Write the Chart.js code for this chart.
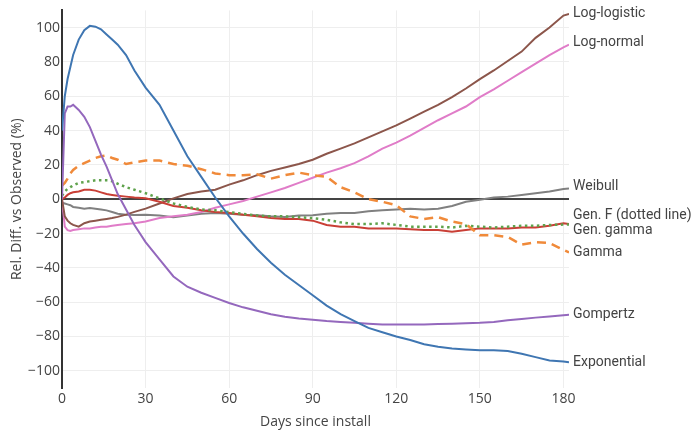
<!DOCTYPE html>
<html>
<head>
<meta charset="utf-8">
<script src="https://cdn.jsdelivr.net/npm/chart.js@4.4.1/dist/chart.umd.min.js"></script>
<style>
  body { margin: 0; background: #fff; }
  #wrap { width: 697px; height: 437px; }
</style>
</head>
<body>
<div id="wrap"><canvas id="chart"></canvas></div>
<script>
// days since install (x values shared by every model)
const days = [0, 1, 2, 3, 4, 6, 8, 10, 12, 14, 16, 18, 20, 23, 26, 30, 35, 40, 45, 50, 55, 60, 65, 70, 75, 80, 85, 90,
  95, 100, 105, 110, 115, 120, 125, 130, 135, 140, 145, 150, 155, 160, 165, 170, 175, 180, 182];

// relative difference vs observed (%)
const exponential = [40, 60, 70, 77, 84, 93, 98.5, 101, 100.5, 99, 96, 93, 90, 84, 75, 65, 55, 40, 25, 13, 1, -10, -20, -29,
  -37, -44, -50, -56, -62, -67, -71, -75, -77.5, -80, -82, -84.5, -86, -87, -87.5, -88, -88, -88.5, -90, -92, -94, -94.5, -95];
const gompertz = [0, 50, 54, 54, 55, 52, 48, 42, 34, 26, 19, 11, 3, -6, -15, -25, -35, -45, -51, -54.5, -57.5, -60.5, -63, -65,
  -67, -68.5, -69.5, -70.3, -71, -71.5, -72, -72.5, -73, -73, -73, -73, -72.7, -72.5, -72.3, -72, -71.5, -70.5, -69.8, -69, -68.3, -67.6, -67.3];
const gamma = [8, 9.5, 12, 15, 17, 19.5, 21, 22.5, 24, 25, 25.5, 24, 23, 20.5, 21.5, 22.5, 22.5, 20.5, 19.5, 17.5, 15, 14, 14, 14.5,
  12, 14, 15.5, 14, 13, 7, 4, 0, -1.5, -3.5, -10, -11.5, -10.5, -13, -14.5, -21, -21, -22, -26.5, -25, -25.5, -29.5, -31];
const genF = [2, 4.5, 6, 7, 8, 9.5, 10, 10.5, 11, 11, 11, 10.5, 9, 7, 5.5, 3.5, 0.5, -2.5, -4.5, -6, -6.5, -7.5, -8.5, -9.5,
  -10, -10, -10.5, -11, -12, -13.5, -14.5, -14.5, -14, -15, -16, -16, -16, -16.5, -15.5, -16, -16.5, -16, -15.5, -15.5, -15, -14.8, -14.7];
const genGamma = [0, 1, 2.5, 3.5, 4, 4.5, 5.5, 5.5, 5, 4, 3, 2.5, 2, 1.5, 1, 0.5, -1.5, -4, -5, -6.5, -7.5, -8, -9, -10,
  -11, -11.5, -11.5, -12.5, -15, -16, -16, -17, -17, -17, -17.5, -18, -18, -19, -18, -17, -17, -17, -16.5, -16.5, -15.5, -14, -14.5];
const logLogistic = [0, -10, -12.5, -14, -15, -16, -14, -13, -12.5, -12, -11.5, -11, -10.3, -9, -7.4, -5.5, -2.5, 0.5, 3, 4.5,
  5.5, 8.5, 11, 14, 16.5, 18.5, 20.5, 23, 26.5, 29.5, 32.5, 36, 39.5, 43, 47, 51, 55, 59.5, 64.5, 70, 75, 80.5, 86, 94, 100, 107, 108];
const logNormal = [0, -16, -18, -18.5, -18, -17.5, -17, -17, -16.5, -16, -16, -15.5, -15, -14.5, -14, -13, -11, -10, -9, -7.5,
  -5, -3, -1, 1.5, 4, 6.5, 9.5, 12.5, 15.5, 18, 21, 25, 29.5, 33, 37, 41.5, 46, 50, 54, 59.5, 64, 69, 74, 79, 84, 88.5, 90];
const weibull = [-2, -2.5, -3, -3.5, -4.5, -5, -5.5, -5.2, -5.5, -6, -6.5, -7.5, -8.5, -9, -9.2, -9, -9.5, -10.5, -9.5, -8.5,
  -8, -8.5, -9, -9.3, -10, -10.3, -9.5, -9.3, -8.5, -8, -8, -7, -6.5, -6, -5.5, -6, -5.5, -4, -1.5, -0.3, 1, 1.5, 2.5, 3.5, 4.5, 6, 6.3];

const xTicks = [0, 30, 60, 90, 120, 150, 180];
const yTicks = [-100, -80, -60, -40, -20, 0, 20, 40, 60, 80, 100];

// vertical nudge (px) for end labels that would otherwise collide
const labelNudge = { "Log-normal": -2, "Weibull": -2, "Gen. F (dotted line)": -9, "Gen. gamma": 6 };

function series(label, values, color, dash) {
  return {
    label: label,
    data: days.map((d, i) => ({ x: d, y: values[i] })),
    borderColor: color,
    borderWidth: dash ? 2.5 : 2,
    borderDash: dash || [],
    pointRadius: 0,
    tension: 0,
    fill: false
  };
}

const endLabels = {
  id: "endLabels",
  afterDatasetsDraw(chart) {
    const ctx = chart.ctx;
    ctx.save();
    ctx.font = "14px Roboto";
    ctx.fillStyle = "#444";
    ctx.textBaseline = "middle";
    ctx.textAlign = "left";
    chart.data.datasets.forEach((ds, i) => {
      const pts = chart.getDatasetMeta(i).data;
      const last = pts[pts.length - 1];
      ctx.fillText(ds.label, chart.chartArea.right + 4, last.y + (labelNudge[ds.label] || 0));
    });
    ctx.restore();
  }
};

const tickFont = { family: "'Open Sans'", size: 14 };

new Chart(document.getElementById("chart"), {
  type: "line",
  data: {
    datasets: [
      series("Exponential", exponential, "#3f76b2"),
      series("Gompertz", gompertz, "#9468bd"),
      series("Gamma", gamma, "#f08a3a", [9, 6]),
      series("Gen. F (dotted line)", genF, "#5fa24c", [2.5, 3.5]),
      series("Gen. gamma", genGamma, "#c93f36"),
      series("Log-logistic", logLogistic, "#8c564b"),
      series("Log-normal", logNormal, "#e07cc8"),
      series("Weibull", weibull, "#808080")
    ]
  },
  options: {
    responsive: true,
    maintainAspectRatio: false,
    animation: false,
    layout: { padding: { top: 10, right: 128, left: 0, bottom: 0 } },
    plugins: { legend: { display: false }, tooltip: { enabled: false } },
    scales: {
      x: {
        type: "linear",
        min: 0,
        max: 182,
        afterBuildTicks: s => { s.ticks = xTicks.map(v => ({ value: v })); },
        afterFit: s => { s.height = 49; },
        ticks: { color: "#444", font: tickFont, padding: 3, maxRotation: 0 },
        grid: { color: "#eeeeee", drawTicks: false },
        border: { display: false },
        title: {
          display: true, text: "Days since install", color: "#444",
          font: { family: "'Open Sans'", size: 14 }, padding: { top: 0, bottom: 7 }
        }
      },
      y: {
        min: -110,
        max: 110,
        afterBuildTicks: s => { s.ticks = yTicks.map(v => ({ value: v })); },
        afterFit: s => { s.width = 62; },
        ticks: {
          color: "#444", font: tickFont, padding: 2,
          callback: v => v < 0 ? "\u2212" + Math.abs(v) : String(v)
        },
        grid: {
          drawTicks: false,
          color: c => c.tick && c.tick.value === 0 ? "#444" : "#eeeeee",
          lineWidth: c => c.tick && c.tick.value === 0 ? 2 : 1
        },
        border: { display: true, color: "#333", width: 2 },
        title: {
          display: true, text: "Rel. Diff. vs Observed (%)", color: "#444",
          font: { family: "'Open Sans'", size: 14 }, padding: { top: 9, bottom: 0 }
        }
      }
    }
  },
  plugins: [endLabels]
});
</script>
</body>
</html>
